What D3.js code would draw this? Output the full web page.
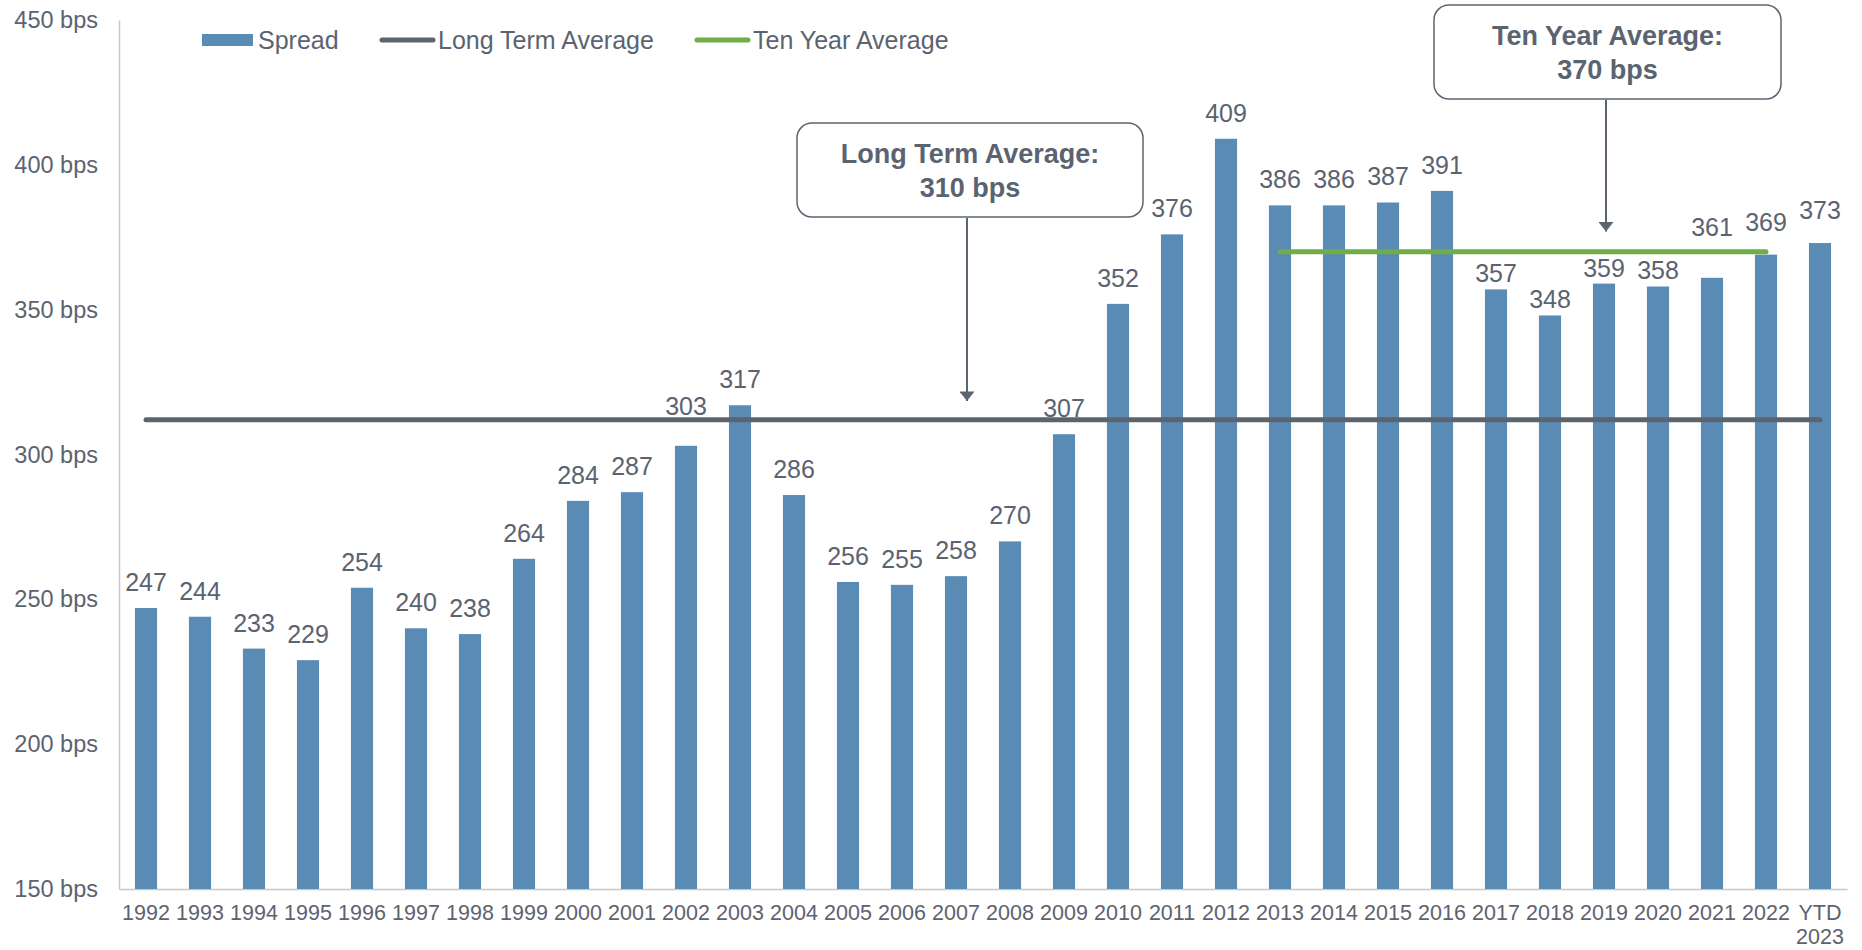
<!DOCTYPE html>
<html>
<head>
<meta charset="utf-8">
<script src="https://cdn.jsdelivr.net/npm/d3@7"></script>
<style>
  body { margin: 0; background: #fff; }
  svg { display: block; font-family: "Liberation Sans", Arial, sans-serif; }
</style>
</head>
<body>
<svg id="chart"></svg>
<script>
// Chart data
const years = ['1992', '1993', '1994', '1995', '1996', '1997', '1998', '1999', '2000', '2001',
    '2002', '2003', '2004', '2005', '2006', '2007', '2008', '2009', '2010', '2011',
    '2012', '2013', '2014', '2015', '2016', '2017', '2018', '2019', '2020', '2021',
    '2022', 'YTD 2023'];
const spread = [247, 244, 233, 229, 254, 240, 238, 264, 284, 287,
    303, 317, 286, 256, 255, 258, 270, 307, 352, 376,
    409, 386, 386, 387, 391, 357, 348, 359, 358, 361,
    369, 373];
const longTermAvg = 312;
const longTermLabel = ['Long Term Average:', '310 bps'];
const tenYearAvg = 370;
const tenYearStart = '2013';
const tenYearEnd = '2022';
const tenYearLabel = ['Ten Year Average:', '370 bps'];
const yTicks = [150, 200, 250, 300, 350, 400, 450];
const legendNames = ['Spread', 'Long Term Average', 'Ten Year Average'];

// Label nudges (px) so labels clear the average lines
const labelLift = {
    '2002': 14, '2017': -10, '2018': -10, '2019': -10, '2020': -10,
    '2021': 25, '2022': 7, 'YTD 2023': 7
};

const W = 1862, H = 950;
const blue = '#5A8BB4', slate = '#5B6570', green = '#70AD47', textCol = '#5B6370';

const svg = d3.select('#chart').attr('width', W).attr('height', H);

const x = d3.scaleBand()
    .domain(years)
    .range([119, 1847])
    .paddingInner(0.59)
    .paddingOuter(0.295);

const y = d3.scaleLinear()
    .domain([150, 450])
    .range([889, 20]);

const cx = d => x(d) + x.bandwidth() / 2;

// Axes
const yAxis = svg.append('g')
    .attr('transform', 'translate(119,0)')
    .call(d3.axisLeft(y).tickValues(yTicks).tickSize(0).tickPadding(21).tickFormat(d => `${d} bps`));
yAxis.select('.domain').attr('stroke', '#C8C8C8').attr('stroke-width', 1.5);
yAxis.selectAll('text')
    .attr('font-size', '23.5px')
    .attr('font-family', '"Liberation Sans", Arial, sans-serif')
    .attr('fill', textCol);

const xAxis = svg.append('g')
    .attr('transform', 'translate(0,889)')
    .call(d3.axisBottom(x).tickSize(0).tickPadding(16));
xAxis.select('.domain').attr('stroke', '#C8C8C8').attr('stroke-width', 1.5);
xAxis.selectAll('text')
    .attr('font-size', '21.5px')
    .attr('font-family', '"Liberation Sans", Arial, sans-serif')
    .attr('fill', textCol)
    .each(function (d) {
        const parts = d.split(' ');
        if (parts.length < 2) return;
        const t = d3.select(this).text(null);
        parts.forEach((p, i) => {
            t.append('tspan').attr('x', 0).attr('dy', i === 0 ? '0.71em' : '1.12em').text(p);
        });
    });

// Bars
svg.selectAll('.bar')
    .data(spread)
    .enter()
    .append('rect')
    .attr('class', 'bar')
    .attr('x', (d, i) => x(years[i]))
    .attr('y', d => y(d))
    .attr('width', x.bandwidth())
    .attr('height', d => y(150) - y(d))
    .attr('fill', blue);

// Average lines
svg.append('line')
    .attr('x1', cx(years[0]))
    .attr('x2', cx(years[years.length - 1]))
    .attr('y1', y(longTermAvg))
    .attr('y2', y(longTermAvg))
    .attr('stroke', slate)
    .attr('stroke-width', 5)
    .attr('stroke-linecap', 'round');

svg.append('line')
    .attr('x1', cx(tenYearStart))
    .attr('x2', cx(tenYearEnd))
    .attr('y1', y(tenYearAvg))
    .attr('y2', y(tenYearAvg))
    .attr('stroke', green)
    .attr('stroke-width', 5)
    .attr('stroke-linecap', 'round');

// Value labels
svg.selectAll('.bar-label')
    .data(spread)
    .enter()
    .append('text')
    .attr('class', 'bar-label')
    .attr('x', (d, i) => cx(years[i]))
    .attr('y', (d, i) => y(d) - 17 - (labelLift[years[i]] || 0))
    .attr('text-anchor', 'middle')
    .attr('font-size', '25px')
    .attr('fill', textCol)
    .text(d => d);

// Callout boxes with arrows
svg.append('defs').append('marker')
    .attr('id', 'arrow')
    .attr('viewBox', '0 0 10 16')
    .attr('refX', 10).attr('refY', 8)
    .attr('markerWidth', 25).attr('markerHeight', 15)
    .attr('markerUnits', 'userSpaceOnUse')
    .attr('orient', 'auto')
    .append('path')
    .attr('d', 'M0,0 L10,8 L0,16 Z')
    .attr('fill', slate);

function callout(lines, ax, box, tipValue) {
    const g = svg.append('g');
    g.append('rect')
        .attr('x', box.x).attr('y', box.y)
        .attr('width', box.w).attr('height', box.h)
        .attr('rx', 15)
        .attr('fill', '#fff')
        .attr('stroke', slate)
        .attr('stroke-width', 1.5);
    g.append('text')
        .attr('x', box.x + box.w / 2)
        .attr('y', box.y + 40)
        .attr('text-anchor', 'middle')
        .attr('font-size', '27px')
        .attr('font-weight', 'bold')
        .attr('fill', textCol)
        .selectAll('tspan')
        .data(lines)
        .enter()
        .append('tspan')
        .attr('x', box.x + box.w / 2)
        .attr('dy', (d, i) => i === 0 ? 0 : 34)
        .text(d => d);
    g.append('line')
        .attr('x1', ax).attr('x2', ax)
        .attr('y1', box.y + box.h + 1)
        .attr('y2', y(tipValue))
        .attr('stroke', slate)
        .attr('stroke-width', 2)
        .attr('marker-end', 'url(#arrow)');
}

callout(longTermLabel, cx('2007') + 11, { x: 797, y: 123, w: 346, h: 94 }, 318.5);
callout(tenYearLabel, cx('2019') + 2, { x: 1434, y: 5, w: 347, h: 94 }, 377);

// Legend
const legend = svg.append('g').attr('transform', 'translate(0,40)');
const legendX = [202, 380, 695];
legendNames.forEach((name, i) => {
    const g = legend.append('g').attr('transform', `translate(${legendX[i]},0)`);
    if (i === 0) {
        g.append('rect').attr('x', 0).attr('y', -6).attr('width', 51).attr('height', 12).attr('fill', blue);
    } else {
        g.append('line')
            .attr('x1', 2).attr('x2', 53)
            .attr('y1', 0).attr('y2', 0)
            .attr('stroke', i === 1 ? slate : green)
            .attr('stroke-width', 5)
            .attr('stroke-linecap', 'round');
    }
    g.append('text')
        .attr('x', i === 0 ? 56 : 58)
        .attr('y', 9)
        .attr('font-size', '25px')
        .attr('fill', textCol)
        .text(name);
});
</script>
</body>
</html>
